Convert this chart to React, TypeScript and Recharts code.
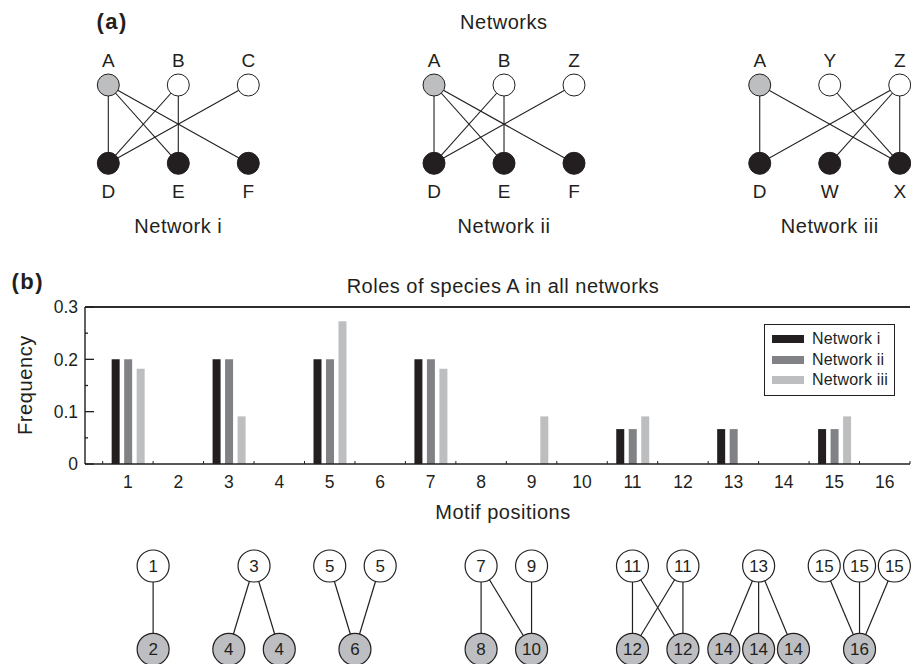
import React from 'react';
import { BarChart, Bar, XAxis, YAxis, Legend, ScatterChart, Scatter } from 'recharts';

const FONT = '"Liberation Sans", Arial, Helvetica, sans-serif';
const INK = '#231f20';
const FOCAL_FILL = '#bcbec0';
const LOWER_FILL = '#bdbec1';

// ---------- Part (a): the three networks ----------
const networkNames = ['Network i', 'Network ii', 'Network iii'];
const networkTopSpecies = [
  ['A', 'B', 'C'],
  ['A', 'B', 'Z'],
  ['A', 'Y', 'Z'],
];
const networkBottomSpecies = [
  ['D', 'E', 'F'],
  ['D', 'E', 'F'],
  ['D', 'W', 'X'],
];
const networkLinks = [
  [['A', 'D'], ['A', 'E'], ['A', 'F'], ['B', 'D'], ['B', 'E'], ['C', 'D']],
  [['A', 'D'], ['A', 'E'], ['A', 'F'], ['B', 'D'], ['B', 'E'], ['Z', 'D']],
  [['A', 'D'], ['A', 'X'], ['Y', 'X'], ['Z', 'D'], ['Z', 'W'], ['Z', 'X']],
];
const focalSpecies = 'A';

// ---------- Part (b): role frequencies ----------
const motifPositions = [1, 2, 3, 4, 5, 6, 7, 8, 9, 10, 11, 12, 13, 14, 15, 16];
const freqNetworkI = [0.2, 0, 0.2, 0, 0.2, 0, 0.2, 0, 0, 0, 0.0667, 0, 0.0667, 0, 0.0667, 0];
const freqNetworkII = [0.2, 0, 0.2, 0, 0.2, 0, 0.2, 0, 0, 0, 0.0667, 0, 0.0667, 0, 0.0667, 0];
const freqNetworkIII = [0.182, 0, 0.091, 0, 0.273, 0, 0.182, 0, 0.091, 0, 0.091, 0, 0, 0, 0.091, 0];
const seriesKeys = ['ni', 'nii', 'niii'];
const seriesNames = ['Network i', 'Network ii', 'Network iii'];
const seriesColors = ['#231f20', '#808285', '#bcbec0'];
const freqTicks = [0, 0.05, 0.1, 0.15, 0.2, 0.25, 0.3];
const FREQ_MAX = 0.3;

// ---------- Motif diagrams (x in motif-position units, level 1 = upper, 0 = lower) ----------
const motifNodes = [
  { id: 'm1', label: '1', x: 1.5, level: 1 },
  { id: 'm2', label: '2', x: 1.5, level: 0 },
  { id: 'm3', label: '3', x: 3.5, level: 1 },
  { id: 'm4a', label: '4', x: 3, level: 0 },
  { id: 'm4b', label: '4', x: 4, level: 0 },
  { id: 'm5a', label: '5', x: 5, level: 1 },
  { id: 'm5b', label: '5', x: 6, level: 1 },
  { id: 'm6', label: '6', x: 5.5, level: 0 },
  { id: 'm7', label: '7', x: 8, level: 1 },
  { id: 'm9', label: '9', x: 9, level: 1 },
  { id: 'm8', label: '8', x: 8, level: 0 },
  { id: 'm10', label: '10', x: 9, level: 0 },
  { id: 'm11a', label: '11', x: 11, level: 1 },
  { id: 'm11b', label: '11', x: 12, level: 1 },
  { id: 'm12a', label: '12', x: 11, level: 0 },
  { id: 'm12b', label: '12', x: 12, level: 0 },
  { id: 'm13', label: '13', x: 13.5, level: 1 },
  { id: 'm14a', label: '14', x: 12.81, level: 0 },
  { id: 'm14b', label: '14', x: 13.5, level: 0 },
  { id: 'm14c', label: '14', x: 14.19, level: 0 },
  { id: 'm15a', label: '15', x: 14.8, level: 1 },
  { id: 'm15b', label: '15', x: 15.5, level: 1 },
  { id: 'm15c', label: '15', x: 16.19, level: 1 },
  { id: 'm16', label: '16', x: 15.5, level: 0 },
];
const motifLinks = [
  ['m1', 'm2'], ['m3', 'm4a'], ['m3', 'm4b'], ['m5a', 'm6'], ['m5b', 'm6'],
  ['m7', 'm8'], ['m7', 'm10'], ['m9', 'm10'],
  ['m11a', 'm12a'], ['m11a', 'm12b'], ['m11b', 'm12a'], ['m11b', 'm12b'],
  ['m13', 'm14a'], ['m13', 'm14b'], ['m13', 'm14c'],
  ['m15a', 'm16'], ['m15b', 'm16'], ['m15c', 'm16'],
];

// ---------- layout helpers ----------
const NET_STEP = 4.653; // column units between networks
const NET_X_DOMAIN = [-1.5471, 11.467];
const NET_Y_DOMAIN = [-1.235, 2.0856];
const POS_DOMAIN = [0.15, 16.5];
const MOTIF_Y_DOMAIN = [-0.1765, 1.432];

const netNodes = networkTopSpecies.flatMap((row, n) =>
  row.map((label, c) => ({
    id: `${n}:${label}`, label, x: n * NET_STEP + c, y: 1,
    kind: label === focalSpecies ? 'focal' : 'upper',
  }))
).concat(
  networkBottomSpecies.flatMap((row, n) =>
    row.map((label, c) => ({ id: `${n}:${label}`, label, x: n * NET_STEP + c, y: 0, kind: 'lower' }))
  )
);
const netNodeById = Object.fromEntries(netNodes.map((d) => [d.id, d]));
const netEdges = networkLinks.flatMap((links, n) =>
  links.map(([a, b]) => [netNodeById[`${n}:${a}`], netNodeById[`${n}:${b}`]])
);

const motifData = motifNodes.map((d) => ({ ...d, y: d.level }));
const motifById = Object.fromEntries(motifData.map((d) => [d.id, d]));
const motifEdges = motifLinks.map(([a, b]) => [motifById[a], motifById[b]]);

const rolesData = motifPositions.map((p, i) => ({
  pos: p, ni: freqNetworkI[i], nii: freqNetworkII[i], niii: freqNetworkIII[i],
}));
const axisTicks = motifPositions.flatMap((p) => [p - 0.5, p]).concat([motifPositions[motifPositions.length - 1] + 0.5]);

const EmptyShape = () => <g />;

const NetworkNode = (props: any) => {
  const { cx, cy, payload } = props;
  const fill = payload.kind === 'focal' ? FOCAL_FILL : payload.kind === 'upper' ? '#ffffff' : INK;
  const ty = payload.y === 1 ? cy - 18.5 : cy + 35;
  return (
    <g>
      <circle cx={cx} cy={cy} r={11} fill={fill} stroke={INK} strokeWidth={1} />
      <text x={cx} y={ty} textAnchor="middle" fontSize={19} fill={INK} fontFamily={FONT}>{payload.label}</text>
    </g>
  );
};

const MotifNode = (props: any) => {
  const { cx, cy, payload } = props;
  return (
    <g>
      <circle cx={cx} cy={cy} r={16} fill={payload.level === 1 ? '#ffffff' : LOWER_FILL} stroke={INK} strokeWidth={1.2} />
      <text x={cx} y={cy} dy="0.36em" textAnchor="middle" fontSize={17} fill={INK} fontFamily={FONT}>{payload.label}</text>
    </g>
  );
};

const PosTick = (props: any) => {
  const { x, y, payload } = props;
  const v = payload.value;
  if (Number.isInteger(v)) {
    return <text x={x} y={y} dy="0.71em" textAnchor="middle" fontSize={17.5} fill={INK} fontFamily={FONT}>{v}</text>;
  }
  return <line x1={x} x2={x} y1={y - 12} y2={y - 15} stroke={INK} strokeWidth={1} />;
};

const FreqTick = (props: any) => {
  const { x, y, payload } = props;
  const v = payload.value;
  const major = Math.abs(v * 10 - Math.round(v * 10)) < 1e-6;
  return (
    <g>
      <line x1={x + 7} x2={x + 7 + (major ? 9 : 3)} y1={y} y2={y} stroke={INK} strokeWidth={1.3} />
      {major && (
        <text x={x} y={y} dy="0.36em" textAnchor="end" fontSize={17.5} fill={INK} fontFamily={FONT}>
          {v === 0 ? '0' : v.toFixed(1)}
        </text>
      )}
    </g>
  );
};

const LegendBox = (props: any) => {
  const { payload } = props;
  return (
    <div style={{ border: `1.3px solid ${INK}`, width: 131, height: 72, boxSizing: 'border-box', padding: '3.5px 0 0 7px', background: '#fff', fontFamily: FONT }}>
      {(payload || []).map((e: any) => (
        <div key={e.value} style={{ display: 'flex', alignItems: 'center', height: 20.7 }}>
          <span style={{ display: 'inline-block', width: 32, height: 8, background: e.color, marginRight: 8 }} />
          <span style={{ fontSize: 16, letterSpacing: 0.2, color: INK, lineHeight: 1 }}>{e.value}</span>
        </div>
      ))}
    </div>
  );
};

const NetworksPanel = () => (
  <ScatterChart width={911} height={260} margin={{ top: 0, right: 0, bottom: 0, left: 0 }}>
    <XAxis type="number" dataKey="x" domain={NET_X_DOMAIN} hide />
    <YAxis type="number" dataKey="y" domain={NET_Y_DOMAIN} hide />
    {netEdges.map((e, i) => (
      <Scatter key={`ne${i}`} data={e} fill={INK} line={{ stroke: INK, strokeWidth: 1.1 }} shape={EmptyShape} isAnimationActive={false} />
    ))}
    <Scatter data={netNodes} shape={NetworkNode} isAnimationActive={false} />
  </ScatterChart>
);

const MotifPanel = () => (
  <ScatterChart width={911} height={134} margin={{ top: 0, right: 1, bottom: 0, left: 85 }}>
    <XAxis type="number" dataKey="x" domain={POS_DOMAIN} hide />
    <YAxis type="number" dataKey="y" domain={MOTIF_Y_DOMAIN} hide />
    {motifEdges.map((e, i) => (
      <Scatter key={`me${i}`} data={e} fill={INK} line={{ stroke: INK, strokeWidth: 1.2 }} shape={EmptyShape} isAnimationActive={false} />
    ))}
    <Scatter data={motifData} shape={MotifNode} isAnimationActive={false} />
  </ScatterChart>
);

const RolesChart = () => (
  <BarChart width={911} height={250} data={rolesData} margin={{ top: 27, right: 1, bottom: 16, left: 45 }} barSize={8} barGap={4.5}>
    <XAxis xAxisId="bars" dataKey="pos" type="number" domain={POS_DOMAIN} ticks={motifPositions} hide />
    <XAxis xAxisId="top" orientation="top" dataKey="pos" type="number" domain={POS_DOMAIN} ticks={motifPositions}
      tick={false} tickLine={false} axisLine={{ stroke: INK, strokeWidth: 1.6 }} height={20} />
    <XAxis xAxisId="axis" dataKey="pos" type="number" domain={POS_DOMAIN} ticks={axisTicks} interval={0}
      tickSize={0} tickMargin={12} tickLine={false} axisLine={{ stroke: INK, strokeWidth: 1.6 }} tick={<PosTick />} height={30} />
    <YAxis type="number" domain={[0, FREQ_MAX]} ticks={freqTicks} interval={0} tickSize={0} tickMargin={7} tickLine={false}
      axisLine={{ stroke: INK, strokeWidth: 1.4 }} tick={<FreqTick />} width={40} />
    <Legend layout="horizontal" verticalAlign="middle" align="center" content={<LegendBox />}
      wrapperStyle={{ left: 764, top: 64, width: 132, height: 72 }} />
    {seriesKeys.map((k, i) => (
      <Bar key={k} xAxisId="bars" dataKey={k} name={seriesNames[i]} fill={seriesColors[i]} isAnimationActive={false} />
    ))}
  </BarChart>
);

const netLabelX = (n: number) => 108.3 + 70 * (n * NET_STEP + 1);

export default function App() {
  return (
    <div style={{ position: 'absolute', left: 0, top: 0, width: 911, height: 664, background: '#fff', fontFamily: FONT, overflow: 'hidden' }}>
      <div style={{ position: 'absolute', left: 0, top: 0 }}><NetworksPanel /></div>
      <div style={{ position: 'absolute', left: 0, top: 260 }}><RolesChart /></div>
      <div style={{ position: 'absolute', left: 0, top: 530 }}><MotifPanel /></div>
      <svg width={911} height={664} style={{ position: 'absolute', left: 0, top: 0, pointerEvents: 'none' }} fontFamily={FONT} fill={INK}>
        <line x1={85} x2={910} y1={307} y2={307} stroke={INK} strokeWidth={1.6} />
        <text x={96.5} y={29} fontSize={22} fontWeight="bold" letterSpacing={1.5}>(a)</text>
        <text x={503.8} y={29.3} fontSize={20} letterSpacing={0.5} textAnchor="middle">Networks</text>
        {networkNames.map((name, n) => (
          <text key={name} x={netLabelX(n)} y={233.3} fontSize={20} letterSpacing={0.5} textAnchor="middle">{name}</text>
        ))}
        <text x={11.5} y={288.5} fontSize={22} fontWeight="bold" letterSpacing={1.5}>(b)</text>
        <text x={503} y={293.3} fontSize={20} letterSpacing={0.5} textAnchor="middle">Roles of species A in all networks</text>
        <text x={503} y={519.3} fontSize={20} letterSpacing={0.5} textAnchor="middle">Motif positions</text>
        <text x={32} y={385} fontSize={20} letterSpacing={0.6} textAnchor="middle" transform="rotate(-90 32 385)">Frequency</text>
      </svg>
    </div>
  );
}
